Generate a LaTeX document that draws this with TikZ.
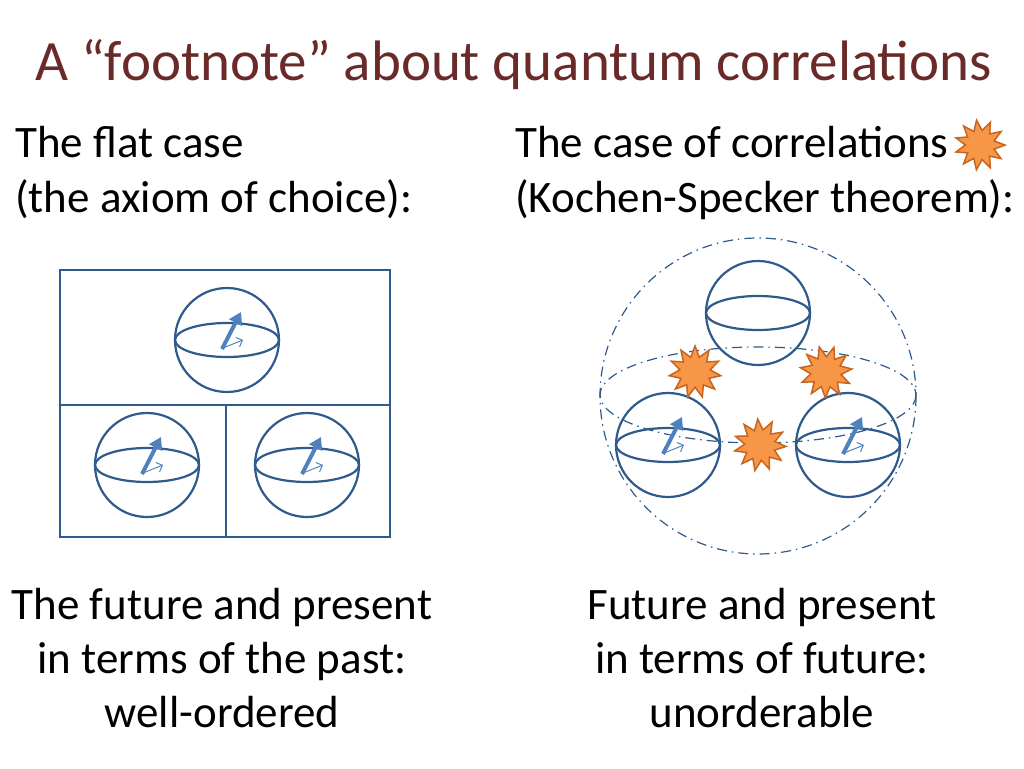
\documentclass[tikz,border=0pt]{standalone}
\usepackage{fontspec}
\setmainfont{Carlito}
\usetikzlibrary{shapes.geometric, arrows.meta}
\definecolor{ball}{HTML}{2E5A8C}
\definecolor{spin}{HTML}{4F81BD}
\definecolor{titlered}{HTML}{6B2A2A}
\definecolor{boomfill}{HTML}{F79646}
\definecolor{boomdraw}{HTML}{C8641E}
\tikzstyle{txt} = [font=\fontsize{45}{54}\selectfont, inner sep=0pt]
\tikzstyle{boom} = [star, star points=11, star point ratio=1.7, fill=boomfill, draw=boomdraw, line width=1.5pt, inner sep=0pt]
\tikzstyle{bigball} = [ball, line width=1.2pt, dash pattern=on 10pt off 5pt on 1.5pt off 5pt]
\newcommand{\qubit}[3]{%
  \draw[ball, line width=2.2pt] (#1,#2) circle (52);
  \draw[ball, line width=2.2pt] (#1,#2) ellipse (52 and 17);
  \ifnum#3=1
    \draw[spin, line width=4pt, -{Triangle[length=12pt, width=14pt]}] (#1-5,#2+9) -- (#1+14,#2-28);
    \draw[spin, line width=1pt, -{Straight Barb[length=5pt]}] (#1-4,#2+8) -- (#1+16,#2);
  \fi}
\begin{document}
\begin{tikzpicture}[x=1pt, y=-1pt]
  \useasboundingbox (0,0) rectangle (1024,768);
  \node[anchor=base west, inner sep=0pt, text=titlered,
    font=\fontsize{57}{60}\selectfont] (title) at (35,80)
    {A “footnote” about quantum correlations};
  \node[txt, anchor=base west] (flat1) at (15,157) {The flat case};
  \node[txt, anchor=base west] (flat2) at (15,212) {(the axiom of choice):};
  \node[txt, anchor=base west] (corr1) at (515,157) {The case of correlations};
  \node[txt, anchor=base west] (corr2) at (515,212) {(Kochen-Specker theorem):};
  \node[boom, minimum size=50pt, rotate=8] (boom0) at (980,145) {};
  % left: well-ordered
  \draw[ball, line width=2.2pt] (60,270) rectangle (390,537);
  \draw[ball, line width=2.2pt] (60,405) -- (390,405);
  \draw[ball, line width=2.2pt] (226,405) -- (226,537);
  \qubit{227}{340}{1}
  \qubit{147}{465}{1}
  \qubit{307}{465}{1}
  % right: unorderable
  \draw[bigball] (758,396) circle (158);
  \draw[bigball] (758,395) ellipse (158 and 48);
  \qubit{758}{313}{0}
  \qubit{668}{445}{1}
  \qubit{848}{445}{1}
  \node[boom, minimum size=52pt] (boom1) at (695,372) {};
  \node[boom, minimum size=52pt, rotate=15] (boom2) at (826,372) {};
  \node[boom, minimum size=52pt, rotate=5] (boom3) at (760,445) {};
  \node[txt, align=center, anchor=base] (past) at (222,727)
    {The future and present\\in terms of the past:\\well-ordered};
  \node[txt, align=center, anchor=base] (fut) at (762,727)
    {Future and present\\in terms of future:\\unorderable};
\end{tikzpicture}
\end{document}
